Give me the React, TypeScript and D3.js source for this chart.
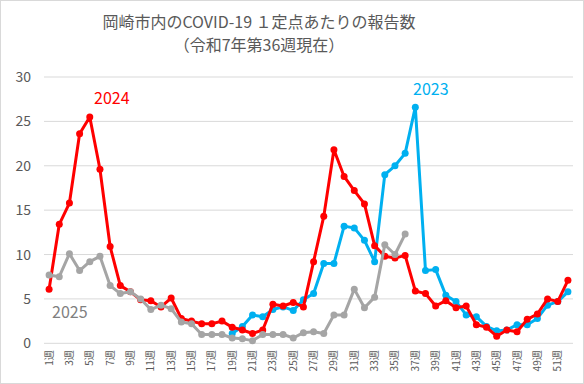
import React from 'react';
import {scaleBand, scaleLinear, line} from 'd3';

const weeks = [1,2,3,4,5,6,7,8,9,10,11,12,13,14,15,16,17,18,19,20,21,22,23,24,25,26,
	27,28,29,30,31,32,33,34,35,36,37,38,39,40,41,42,43,44,45,46,47,48,49,50,51,52];

const yTicks = [0, 5, 10, 15, 20, 25, 30];

// 2023: reporting starts at week 19
const v2023 = [null,null,null,null,null,null,null,null,null,null,null,null,null,null,null,null,null,null,
	1.1,1.9,3.2,3.0,3.8,4.1,3.7,4.9,5.6,9.0,9.0,13.2,13.0,11.6,9.2,19.0,20.0,21.4,26.6,
	8.2,8.3,5.4,4.7,3.2,3.0,1.9,1.4,1.5,2.1,2.1,2.8,4.3,4.7,5.8];

const v2024 = [6.1,13.4,15.8,23.6,25.5,19.6,10.9,6.5,5.8,4.9,
	4.8,4.1,5.1,2.8,2.5,2.2,2.2,2.5,1.8,1.5,
	1.1,1.5,4.4,4.2,4.6,4.1,9.2,14.3,21.8,18.8,
	17.2,15.7,11.0,9.8,9.6,9.9,5.9,5.6,4.2,4.8,
	4.0,4.2,2.1,1.8,0.8,1.5,1.3,2.7,3.3,5.0,
	4.7,7.1];

const v2025 = [7.7,7.5,10.1,8.2,9.2,9.8,6.5,5.6,5.8,5.0,
	3.8,4.3,3.9,2.4,2.2,1.0,1.0,1.0,0.6,0.5,
	0.3,1.0,1.0,1.0,0.6,1.2,1.3,1.1,3.2,3.2,
	6.1,4.0,5.2,11.1,10.0,12.3];

const series = [
	{key:'2023', values:v2023, color:'#00B0F0', label:{x:413, y:95, fill:'#00B0F0'}},
	{key:'2024', values:v2024, color:'#FF0000', label:{x:94, y:104, fill:'#FF0000'}},
	{key:'2025', values:v2025, color:'#A5A5A5', label:{x:52, y:318, fill:'#7F7F7F'}},
];

const W = 584, H = 384;
const margin = {t:77, r:11, b:40.7, l:44};

const fontFamily = '"Noto Sans CJK JP", "Noto Sans", sans-serif';

const scaleX = scaleBand<number>()
	.domain(weeks)
	.range([margin.l, W - margin.r]);

const scaleY = scaleLinear()
	.domain([0, 30])
	.range([H - margin.b, margin.t]);

const cx = (w:number) => (scaleX(w) as number) + scaleX.bandwidth()/2;

export default function App(){

	return (
		<svg width={W} height={H} style={{position:'absolute', left:0, top:0, background:'#fff'}}>
			<rect x={0.5} y={0.5} width={W-1} height={H-1} fill='#fff' stroke='#D9D9D9'/>

			<text x={259} y={28} textAnchor='middle' fill='#595959' fontSize={16} fontFamily={fontFamily}>
				岡崎市内のCOVID-19 １定点あたりの報告数
			</text>
			<text x={259} y={51} textAnchor='middle' fill='#595959' fontSize={16} fontFamily={fontFamily}>
				（令和7年第36週現在）
			</text>

			{/* grid + y axis */}
			{yTicks.map(t =>
				<g key={t}>
					<line x1={margin.l} x2={W - margin.r} y1={scaleY(t)} y2={scaleY(t)} stroke='#D9D9D9' strokeWidth={1}/>
					<text x={31} y={scaleY(t)} dy={5} textAnchor='end' fill='#595959' fontSize={14} fontFamily={fontFamily}>{t}</text>
				</g>
			)}

			{/* x axis labels, every other week */}
			{weeks.filter(w => w % 2 === 1).map(w =>
				<text key={w}
					transform={`translate(${cx(w) + 3.5},${H - margin.b + 7}) rotate(-90)`}
					textAnchor='end' fill='#595959' fontSize={10} fontFamily={fontFamily}
				>{w}週</text>
			)}

			{series.map(s => {
				const pts = weeks.map((w, i) => ({w, v: s.values[i]}))
					.filter(d => d.v !== null && d.v !== undefined) as {w:number, v:number}[];
				const path = line<{w:number, v:number}>()
					.x(d => cx(d.w))
					.y(d => scaleY(d.v))(pts);
				return (
					<g key={s.key}>
						<path d={path || ''} fill='none' stroke={s.color} strokeWidth={3} strokeLinejoin='round'/>
						{pts.map(d =>
							<circle key={d.w} cx={cx(d.w)} cy={scaleY(d.v)} r={3.5} fill={s.color}/>
						)}
					</g>
				);
			})}

			{series.map(s =>
				<text key={s.key} x={s.label.x} y={s.label.y} fill={s.label.fill} fontSize={16} fontFamily={fontFamily}>{s.key}</text>
			)}
		</svg>
	);
}
